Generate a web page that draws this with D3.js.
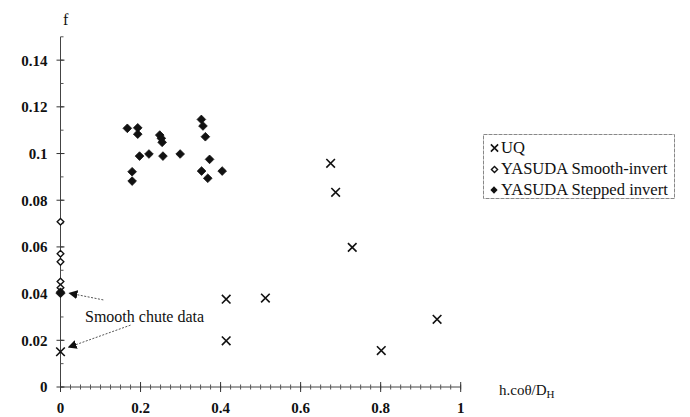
<!DOCTYPE html>
<html><head><meta charset="utf-8">
<script src="https://cdn.jsdelivr.net/npm/d3@7"></script>
<style>body{margin:0;background:#fff}svg{display:block}</style>
</head><body>
<svg id="c" width="690" height="417"></svg>
<script>
// ---- data ----
const uqX = [0, 0.414, 0.414, 0.512, 0.675, 0.6875, 0.729, 0.8015, 0.941];
const uqY = [0.0151, 0.0376, 0.0198, 0.0381, 0.0958, 0.0834, 0.0598, 0.0156, 0.0290];
const smoothX = [0, 0, 0, 0, 0];
const smoothY = [0.0708, 0.0571, 0.0536, 0.0452, 0.0425];
const steppedX = [0.167, 0.193, 0.193, 0.179, 0.179, 0.1975, 0.221, 0.248, 0.252, 0.254, 0.256, 0.299,
                  0.352, 0.356, 0.362, 0.3725, 0.3525, 0.368, 0.404, 0, 0];
const steppedY = [0.1108, 0.1110, 0.1083, 0.0922, 0.0882, 0.0989, 0.0998, 0.1079, 0.1065, 0.1048, 0.0989, 0.0998,
                  0.1146, 0.1118, 0.1072, 0.0975, 0.0925, 0.0894, 0.0925, 0.0406, 0.0401];
const xTicks = [0, 0.2, 0.4, 0.6, 0.8, 1];
const xTickLabels = ["0", "0.2", "0.4", "0.6", "0.8", "1"];
const yTicks = [0, 0.02, 0.04, 0.06, 0.08, 0.1, 0.12, 0.14];
const yTickLabels = ["0", "0.02", "0.04", "0.06", "0.08", "0.1", "0.12", "0.14"];
const legendLabels = ["UQ", "YASUDA Smooth-invert", "YASUDA Stepped invert"];
const annotationText = "Smooth chute data";

// ---- chart ----
const svg = d3.select("#c");
const x = d3.scaleLinear().domain([0, 1]).range([60.5, 460.7]);
const y = d3.scaleLinear().domain([0, 0.15]).range([387, 36.8]);
const serif = "'Liberation Serif','Times New Roman',serif";

// y axis
const yAxis = svg.append("g").attr("transform", `translate(${x(0)},0)`);
yAxis.append("line").attr("y1", y(0)).attr("y2", y(0.15)).attr("stroke", "#444").attr("stroke-width", 1);
const yMinor = d3.range(0, 0.1501, 0.01);
yAxis.selectAll(".ym").data(yMinor).join("line")
  .attr("x1", 0).attr("x2", 3).attr("y1", d => y(d)).attr("y2", d => y(d))
  .attr("stroke", "#555").attr("stroke-width", 1);
yAxis.selectAll(".yM").data(yTicks).join("line")
  .attr("x1", -4).attr("x2", 4).attr("y1", d => y(d)).attr("y2", d => y(d))
  .attr("stroke", "#333").attr("stroke-width", 1);
yAxis.selectAll(".yl").data(yTicks).join("text")
  .attr("x", -13).attr("y", d => y(d)).attr("dy", "0.36em")
  .attr("text-anchor", "end").attr("font-family", serif).attr("font-weight", "bold")
  .attr("font-size", 15).attr("fill", "#111")
  .text((d, i) => yTickLabels[i]);

// x axis
const xAxis = svg.append("g").attr("transform", `translate(0,${y(0)})`);
xAxis.append("line").attr("x1", x(0)).attr("x2", x(1)).attr("stroke", "#444").attr("stroke-width", 1);
const xMinor = d3.range(0, 1.0001, 0.025);
xAxis.selectAll(".xm").data(xMinor).join("line")
  .attr("x1", d => x(d)).attr("x2", d => x(d)).attr("y1", -2.5).attr("y2", 2.5)
  .attr("stroke", "#555").attr("stroke-width", 1);
xAxis.selectAll(".xM").data(xTicks).join("line")
  .attr("x1", d => x(d)).attr("x2", d => x(d)).attr("y1", -5).attr("y2", 5)
  .attr("stroke", "#333").attr("stroke-width", 1);
xAxis.selectAll(".xl").data(xTicks).join("text")
  .attr("x", d => x(d)).attr("y", 26)
  .attr("text-anchor", "middle").attr("font-family", serif).attr("font-weight", "bold")
  .attr("font-size", 15).attr("fill", "#111")
  .text((d, i) => xTickLabels[i]);

// axis titles
svg.append("text").attr("x", 63).attr("y", 25).attr("font-family", serif)
  .attr("font-size", 16).attr("fill", "#111").text("f");
const xt = svg.append("text").attr("x", 499).attr("y", 395).attr("font-family", serif)
  .attr("font-size", 15).attr("fill", "#111");
xt.append("tspan").text("h.co\u03B8/D");
xt.append("tspan").attr("font-size", 11).attr("dy", 3).text("H");

// markers
function cross(g, cx, cy, r) {
  g.append("path").attr("d", `M${cx - r},${cy - r}L${cx + r},${cy + r}M${cx - r},${cy + r}L${cx + r},${cy - r}`)
    .attr("stroke", "#111").attr("stroke-width", 1.6).attr("fill", "none");
}
const diamond = d3.symbol().type(d3.symbolDiamond2);

const marks = svg.append("g");
// smooth (hollow)
marks.selectAll(".sm").data(smoothX.map((d, i) => [d, smoothY[i]])).join("path")
  .attr("d", diamond.size(28)())
  .attr("transform", d => `translate(${x(d[0])},${y(d[1])})`)
  .attr("fill", "#fff").attr("stroke", "#111").attr("stroke-width", 1.4);
// stepped (filled)
marks.selectAll(".st").data(steppedX.map((d, i) => [d, steppedY[i]])).join("path")
  .attr("d", diamond.size(48)())
  .attr("transform", d => `translate(${x(d[0])},${y(d[1])})`)
  .attr("fill", "#111").attr("stroke", "#111").attr("stroke-width", 0.8);
// UQ crosses
uqX.forEach((d, i) => cross(marks, x(d), y(uqY[i]), 4.3));

// annotation
const defs = svg.append("defs");
defs.append("marker").attr("id", "ah").attr("viewBox", "0 0 10 10").attr("refX", 9).attr("refY", 5)
  .attr("markerWidth", 9).attr("markerHeight", 9).attr("markerUnits", "userSpaceOnUse").attr("orient", "auto")
  .append("path").attr("d", "M0,0L10,5L0,10Z").attr("fill", "#111");
svg.append("text").attr("x", 85).attr("y", 322).attr("font-family", serif)
  .attr("font-size", 16).attr("fill", "#111").text(annotationText);
const arrows = [[[0.107, 0.0373], [0.022, 0.0402]], [[0.175, 0.0265], [0.020, 0.0170]]];
svg.selectAll(".ar").data(arrows).join("line")
  .attr("x1", d => x(d[0][0])).attr("y1", d => y(d[0][1]))
  .attr("x2", d => x(d[1][0])).attr("y2", d => y(d[1][1]))
  .attr("stroke", "#555").attr("stroke-width", 1).attr("stroke-dasharray", "2,1.5")
  .attr("marker-end", "url(#ah)");

// legend
const lg = svg.append("g");
lg.append("rect").attr("x", 483.5).attr("y", 134.5).attr("width", 191).attr("height", 64)
  .attr("fill", "none").attr("stroke", "#888").attr("stroke-width", 1).attr("stroke-dasharray", "4,1");
const rowsY = [153, 174, 195];
legendLabels.forEach((t, i) => {
  lg.append("text").attr("x", 501).attr("y", rowsY[i]).attr("font-family", serif)
    .attr("font-size", 16.6).attr("fill", "#111").text(t);
});
cross(lg, 494.5, 148, 3.6);
lg.append("path").attr("d", diamond.size(24)()).attr("transform", "translate(494.5,169.5)")
  .attr("fill", "#fff").attr("stroke", "#111").attr("stroke-width", 1.4);
lg.append("path").attr("d", diamond.size(34)()).attr("transform", "translate(494,190)")
  .attr("fill", "#111");
</script>
</body></html>
